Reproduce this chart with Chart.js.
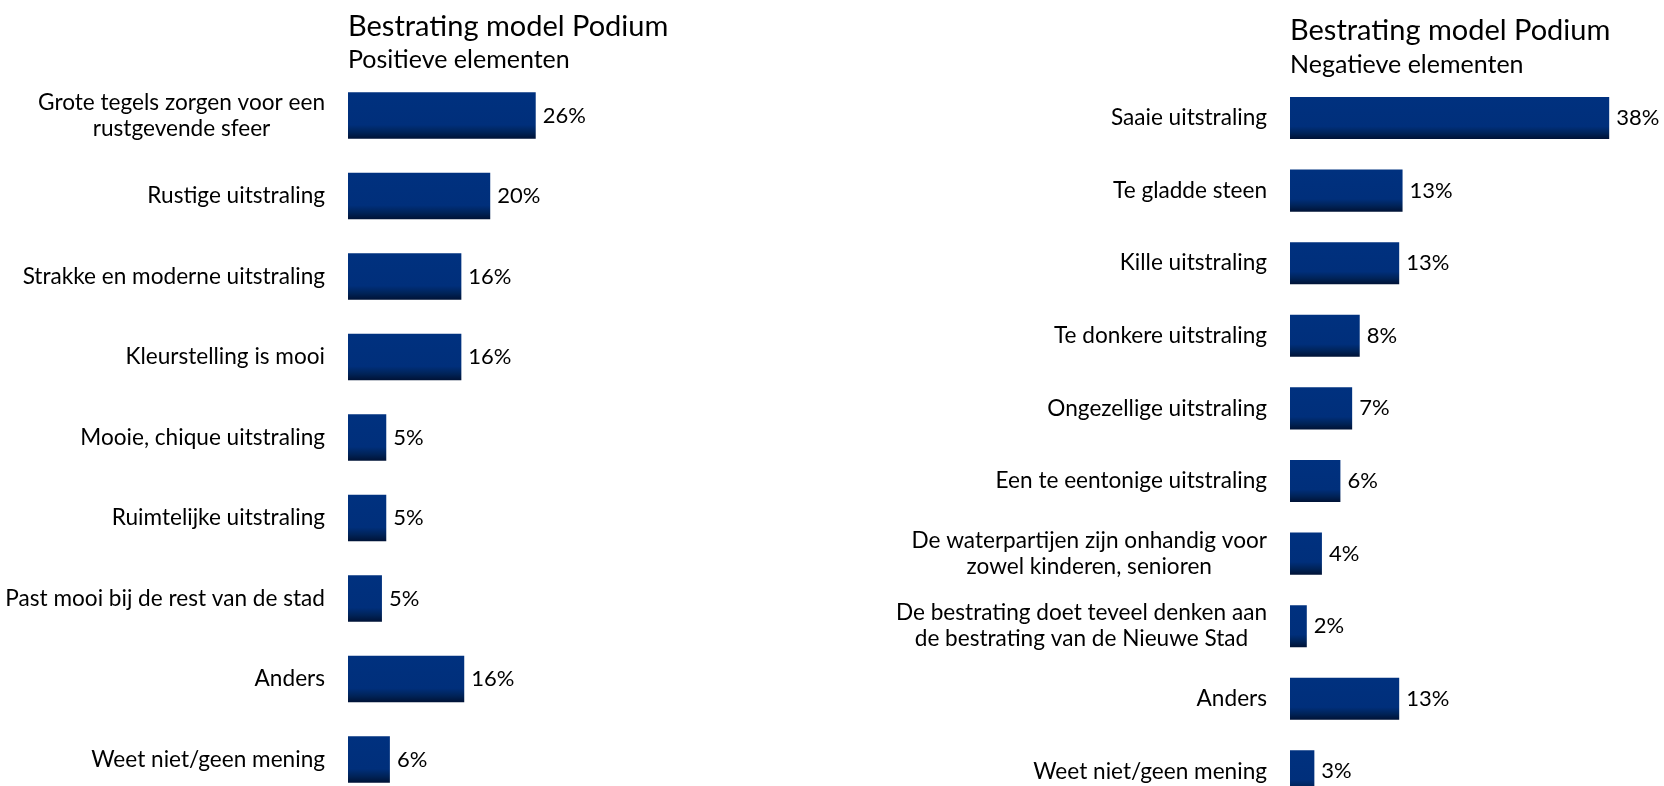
<!DOCTYPE html>
<html>
<head>
<meta charset="utf-8">
<script src="https://cdn.jsdelivr.net/npm/chart.js@4.4.0/dist/chart.umd.min.js"></script>
<style>
  html, body { margin: 0; padding: 0; background: #fff; overflow: hidden; }
  .panel { position: absolute; top: 0; }
</style>
</head>
<body>
<div class="panel" style="left:0"><canvas id="posChart" width="832" height="810"></canvas></div>
<div class="panel" style="left:832px"><canvas id="negChart" width="832" height="810"></canvas></div>
<script>
// Data
const chartTitle = 'Bestrating model Podium';

const posSubtitle = 'Positieve elementen';
const posLabels = [
    ['Grote tegels zorgen voor een', 'rustgevende sfeer'],
    'Rustige uitstraling',
    'Strakke en moderne uitstraling',
    'Kleurstelling is mooi',
    'Mooie, chique uitstraling',
    'Ruimtelijke uitstraling',
    'Past mooi bij de rest van de stad',
    'Anders',
    'Weet niet/geen mening'
];
const posValues = [26, 19.7, 15.7, 15.7, 5.3, 5.3, 4.7, 16.1, 5.8];

const negSubtitle = 'Negatieve elementen';
const negLabels = [
    'Saaie uitstraling',
    'Te gladde steen',
    'Kille uitstraling',
    'Te donkere uitstraling',
    'Ongezellige uitstraling',
    'Een te eentonige uitstraling',
    ['De waterpartijen zijn onhandig voor', 'zowel kinderen, senioren'],
    ['De bestrating doet teveel denken aan', 'de bestrating van de Nieuwe Stad'],
    'Anders',
    'Weet niet/geen mening'
];
const negValues = [38, 13.4, 13.0, 8.3, 7.4, 6.0, 3.8, 2.0, 13.0, 2.9];

const FONT = 'Lato, "Open Sans", sans-serif';

// bar fill: flat navy with a darker band at the bottom
function barFill(context) {
    const chart = context.chart;
    const y = chart.scales.y;
    if (!chart.chartArea || !y) return '#00307e';
    const band = Math.abs(y.getPixelForValue(1) - y.getPixelForValue(0));
    const half = band * 0.58 / 2;
    const cy = y.getPixelForValue(context.dataIndex);
    const g = chart.ctx.createLinearGradient(0, cy - half, 0, cy + half);
    g.addColorStop(0, '#00317f');
    g.addColorStop(0.7, '#002f7b');
    g.addColorStop(0.86, '#002358');
    g.addColorStop(1, '#001235');
    return g;
}

// category labels: block right aligned, lines centred inside the block
const sideLabels = {
    id: 'sideLabels',
    afterDraw(chart, args, opts) {
        const {ctx, chartArea, scales: {y}} = chart;
        ctx.save();
        ctx.font = '22.6px ' + FONT;
        ctx.fillStyle = '#000';
        ctx.textBaseline = 'middle';
        ctx.textAlign = 'center';
        chart.data.labels.forEach((label, i) => {
            const lines = Array.isArray(label) ? label : [label];
            const w = Math.max(...lines.map(l => ctx.measureText(l).width));
            const cx = chartArea.left - opts.gap - w / 2;
            const cy = y.getPixelForValue(i);
            lines.forEach((line, j) => {
                ctx.fillText(line, cx, cy + (j - (lines.length - 1) / 2) * opts.lineHeight);
            });
        });
        ctx.restore();
    }
};

// percentage at the end of each bar
const valueLabels = {
    id: 'valueLabels',
    afterDatasetsDraw(chart) {
        const {ctx} = chart;
        const meta = chart.getDatasetMeta(0);
        const values = chart.data.datasets[0].data;
        ctx.save();
        ctx.font = '22px ' + FONT;
        ctx.fillStyle = '#000';
        ctx.textBaseline = 'middle';
        ctx.textAlign = 'left';
        meta.data.forEach((bar, i) => {
            ctx.fillText(Math.round(values[i]) + '%', bar.x + 7, bar.y);
        });
        ctx.restore();
    }
};

function makeChart(id, labels, values, subtitle, cfg) {
    return new Chart(document.getElementById(id), {
        type: 'bar',
        data: {
            labels: labels,
            datasets: [{
                data: values,
                backgroundColor: barFill,
                borderWidth: 0,
                barPercentage: 0.58,
                categoryPercentage: 1
            }]
        },
        options: {
            indexAxis: 'y',
            responsive: false,
            animation: false,
            events: [],
            layout: {
                padding: {left: cfg.left, right: cfg.right, top: 0, bottom: cfg.bottom}
            },
            scales: {
                x: {display: false, min: 0, max: cfg.max},
                y: {display: false}
            },
            plugins: {
                legend: {display: false},
                tooltip: {enabled: false},
                title: {
                    display: true,
                    text: chartTitle,
                    align: 'start',
                    color: '#000',
                    font: {family: FONT, size: 29, weight: 'normal', lineHeight: '30px'},
                    padding: {top: cfg.titleTop, bottom: 0}
                },
                subtitle: {
                    display: true,
                    text: subtitle,
                    align: 'start',
                    color: '#000',
                    font: {family: FONT, size: 25, weight: 'normal', lineHeight: '30px'},
                    padding: {top: cfg.subTop, bottom: cfg.subBottom}
                },
                sideLabels: {gap: 23, lineHeight: 26}
            }
        },
        plugins: [sideLabels, valueLabels]
    });
}

makeChart('posChart', posLabels, posValues, posSubtitle, {
    left: 348, right: 123, bottom: 10.25, max: 50,
    titleTop: 11.5, subTop: 3, subBottom: 0.75
});

makeChart('negChart', negLabels, negValues, negSubtitle, {
    left: 458, right: 38, bottom: 2.3, max: 40,
    titleTop: 16, subTop: 4, subBottom: 1.7
});
</script>
</body>
</html>
